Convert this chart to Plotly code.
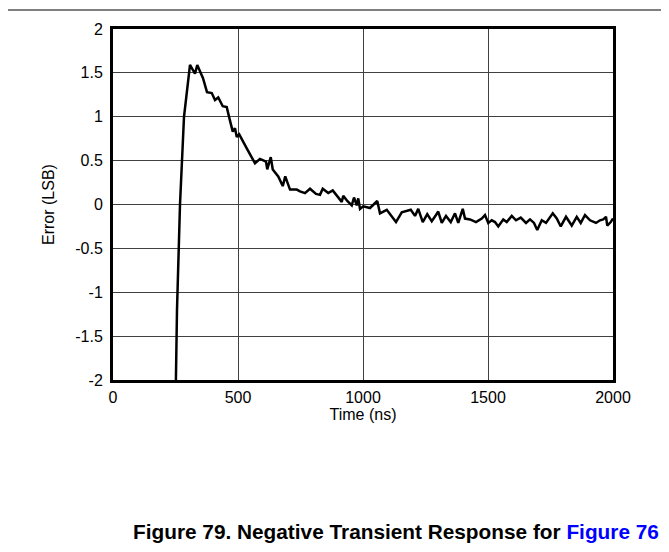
import plotly.graph_objects as go

time_ns = [250, 256, 268, 279, 284, 308, 328, 337, 360, 376, 395, 408, 421, 439, 455, 465, 479, 488, 495,
           505, 528, 535, 568, 588, 612, 617, 631, 639, 661, 679, 689, 708, 735, 748, 768, 788, 812, 828,
           839, 861, 879, 897, 915, 921, 937, 955, 964, 975, 981, 988, 1001, 1028, 1057, 1068, 1095, 1132,
           1155, 1191, 1208, 1221, 1239, 1257, 1275, 1292, 1301, 1315, 1332, 1351, 1368, 1381, 1399, 1408,
           1428, 1452, 1475, 1488, 1501, 1515, 1528, 1541, 1561, 1575, 1595, 1612, 1631, 1652, 1668, 1684,
           1697, 1715, 1732, 1759, 1775, 1791, 1812, 1835, 1855, 1871, 1888, 1908, 1932, 1948, 1961, 1972,
           1977, 1991, 2000]
error_lsb = [-2.3, -1.2, 0.0, 0.75, 1.0, 1.59, 1.49, 1.59, 1.44, 1.28, 1.27, 1.19, 1.22, 1.12, 1.11, 0.99,
             0.83, 0.87, 0.77, 0.80, 0.67, 0.64, 0.47, 0.52, 0.49, 0.40, 0.54, 0.40, 0.32, 0.21, 0.32, 0.17,
             0.17, 0.15, 0.13, 0.18, 0.12, 0.11, 0.18, 0.13, 0.16, 0.09, 0.03, 0.10, 0.04, -0.01, 0.08, -0.01,
             0.07, -0.05, -0.02, -0.04, 0.04, -0.10, -0.06, -0.20, -0.09, -0.06, -0.13, -0.05, -0.20, -0.11,
             -0.19, -0.12, -0.08, -0.21, -0.13, -0.20, -0.10, -0.21, -0.05, -0.16, -0.17, -0.20, -0.16, -0.12,
             -0.21, -0.18, -0.20, -0.25, -0.17, -0.20, -0.13, -0.18, -0.15, -0.21, -0.17, -0.21, -0.29, -0.18,
             -0.21, -0.10, -0.16, -0.25, -0.14, -0.24, -0.14, -0.21, -0.12, -0.18, -0.21, -0.18, -0.17, -0.14,
             -0.24, -0.20, -0.16]

x_ticks = [0, 500, 1000, 1500, 2000]
y_ticks = [-2, -1.5, -1, -0.5, 0, 0.5, 1, 1.5, 2]
y_tick_text = ["-2", "-1.5", "-1", "-0.5", "0", "0.5", "1", "1.5", "2"]

FAM = "Liberation Sans, Arial, sans-serif"
font = dict(family=FAM, size=16, color="black")

fig = go.Figure()
fig.add_trace(go.Scatter(x=time_ns, y=error_lsb, mode="lines",
                         line=dict(color="black", width=2.5), showlegend=False))

fig.update_layout(
    width=661, height=544,
    margin=dict(l=105, r=56, t=21, b=172),
    paper_bgcolor="white", plot_bgcolor="white",
    font=font,
    xaxis=dict(range=[0, 2000], tickvals=x_ticks, ticks="", showgrid=True,
               gridcolor="#404040", gridwidth=1, zeroline=False,
               showline=True, linecolor="black", linewidth=3, mirror=True,
               ticklabelstandoff=1,
               title=dict(text="Time (ns)", standoff=0, font=dict(family=FAM, size=16)),
               tickfont=font),
    yaxis=dict(range=[-2, 2], tickvals=y_ticks, ticktext=y_tick_text, ticks="",
               showgrid=True, gridcolor="#404040", gridwidth=1, zeroline=False,
               showline=True, linecolor="black", linewidth=3, mirror=True,
               ticklabelstandoff=4,
               title=dict(text="Error (LSB)", standoff=17, font=dict(family=FAM, size=16)),
               tickfont=font),
    shapes=[dict(type="line", xref="paper", yref="paper",
                 x0=-113/500, x1=556/500, y0=1 + 19/351, y1=1 + 19/351,
                 line=dict(color="black", width=1))],
    annotations=[dict(xref="paper", yref="paper", x=(396-113)/500, y=(380-531)/351,
                      xanchor="center", yanchor="middle", showarrow=False,
                      text="<b>Figure 79. Negative Transient Response for <span style='color:#0000FF'>Figure 76</span></b>",
                      font=dict(family=FAM, size=20.8, color="black"))],
)

fig.write_html("out.html")
